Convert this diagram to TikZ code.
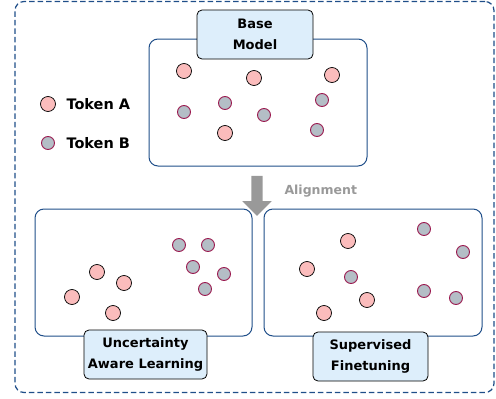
\documentclass[tikz,border=0pt]{standalone}
\usepackage{fontspec}
\setmainfont{DejaVu Sans}
\usetikzlibrary{shapes.arrows}
\definecolor{frameblue}{HTML}{1F4E89}
\definecolor{labelfill}{HTML}{DDEEFB}
\definecolor{tokApink}{HTML}{FBBCBC}
\definecolor{tokBgray}{HTML}{B4BEC6}
\definecolor{tokBedge}{HTML}{9B1B50}
\definecolor{arrowgray}{HTML}{999999}
\tikzset{
  outerframe/.style={draw=frameblue, dash pattern=on 5.5pt off 3pt, line width=1.2pt, rounded corners=9pt},
  panel/.style={draw=frameblue, line width=1pt, rounded corners=9pt},
  panellabel/.style={draw=black, fill=labelfill, line width=0.8pt, rounded corners=5pt, align=center, font=\fontsize{13}{21.5}\selectfont\bfseries, inner sep=0pt},
  tokA/.style={circle, draw=black, fill=tokApink, line width=0.7pt, minimum size=15pt, inner sep=0pt},
  tokB/.style={circle, draw=tokBedge, fill=tokBgray, line width=0.9pt, minimum size=13pt, inner sep=0pt},
  legtext/.style={anchor=west, font=\fontsize{14.5}{16}\selectfont\bfseries},
}
\begin{document}
\begin{tikzpicture}[x=1pt,y=-1pt]
\useasboundingbox (0,0) rectangle (496,399);
\node[outerframe, minimum width=479pt, minimum height=391pt, inner sep=0pt] (frame) at (254.5,197) {};
% base model panel
\node[panel, minimum width=218pt, minimum height=127pt, inner sep=0pt] (base) at (258,102.5) {};
\node[panellabel, minimum width=116pt, minimum height=49pt] (baselab) at (255,34.5) {Base\\Model};
% tokens in base
\node[tokA] (ba1) at (184,71) {};
\node[tokA] (ba2) at (254,78) {};
\node[tokA] (ba3) at (332,75) {};
\node[tokA] (ba4) at (225,133) {};
\node[tokB] (bb1) at (184,112) {};
\node[tokB] (bb2) at (225,103) {};
\node[tokB] (bb3) at (264,115) {};
\node[tokB] (bb4) at (322,100) {};
\node[tokB] (bb5) at (317,130) {};
% legend
\node[tokA] (legA) at (48,104) {};
\node[legtext] (legAt) at (63,104) {Token A};
\node[tokB] (legB) at (48,143) {};
\node[legtext] (legBt) at (63,143) {Token B};
% alignment arrow
\node[single arrow, shape border rotate=270, fill=arrowgray, draw=none,
      minimum width=29pt, single arrow head extend=9pt, single arrow tip angle=90,
      minimum height=40pt, inner sep=5.5pt] (arr) at (257,193) {};
\node[anchor=west, text=arrowgray, font=\fontsize{12.5}{14}\selectfont\bfseries] (alig) at (281,191) {Alignment};
% bottom panels
\node[panel, minimum width=217pt, minimum height=127pt, inner sep=0pt] (left) at (143.5,272.5) {};
\node[panel, minimum width=218pt, minimum height=127pt, inner sep=0pt] (right) at (373,272.5) {};
\node[panellabel, minimum width=123pt, minimum height=49pt] (leftlab) at (145.5,354.5) {Uncertainty\\Aware Learning};
\node[panellabel, minimum width=115pt, minimum height=49pt] (rightlab) at (370.5,356.5) {Supervised\\Finetuning};
% left tokens
\node[tokA] (la1) at (97,272) {};
\node[tokA] (la2) at (124,283) {};
\node[tokA] (la3) at (72,297) {};
\node[tokA] (la4) at (113,313) {};
\node[tokB] (lb1) at (179,245) {};
\node[tokB] (lb2) at (208,245) {};
\node[tokB] (lb3) at (193,267) {};
\node[tokB] (lb4) at (224,274) {};
\node[tokB] (lb5) at (205,289) {};
% right tokens
\node[tokA] (ra1) at (348,241) {};
\node[tokA] (ra2) at (307,269) {};
\node[tokA] (ra3) at (367,300) {};
\node[tokA] (ra4) at (324,313) {};
\node[tokB] (rb1) at (424,229) {};
\node[tokB] (rb2) at (463,252) {};
\node[tokB] (rb3) at (351,277) {};
\node[tokB] (rb4) at (424,291) {};
\node[tokB] (rb5) at (456,298) {};
\end{tikzpicture}
\end{document}
